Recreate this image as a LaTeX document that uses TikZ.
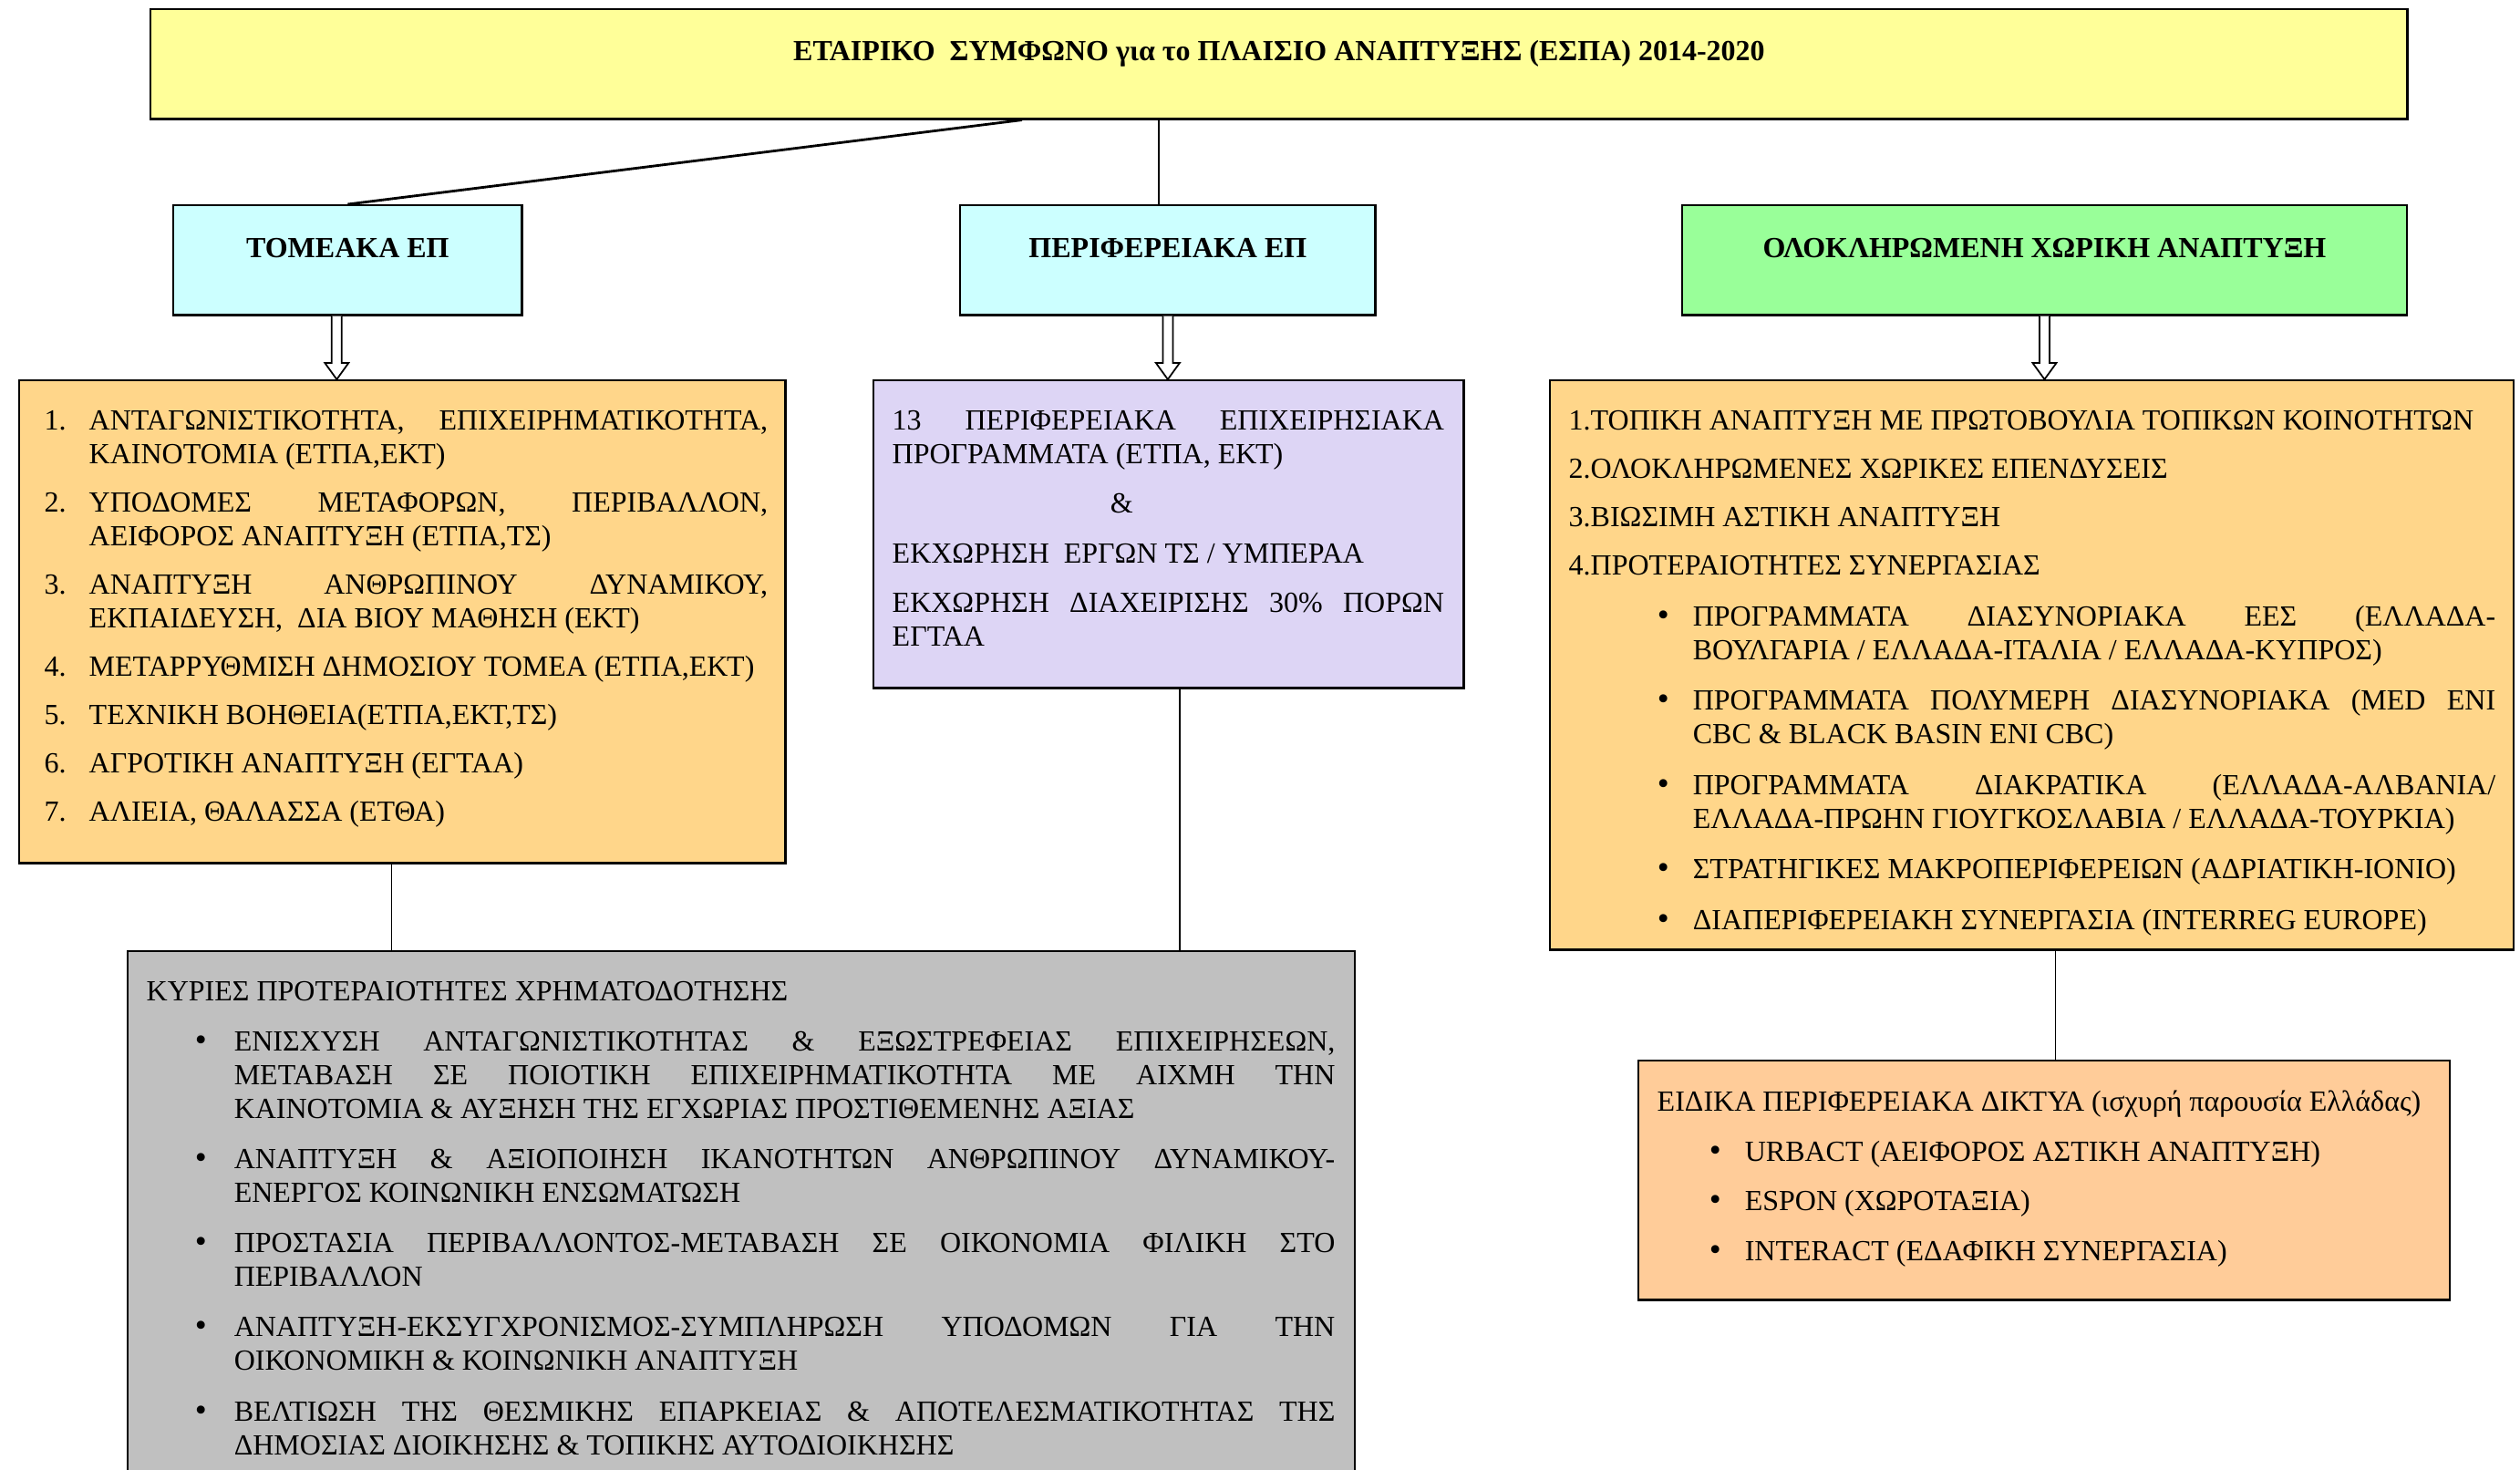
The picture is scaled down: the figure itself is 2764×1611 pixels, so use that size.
\documentclass[tikz,border=0pt]{standalone}
\usepackage{fontspec}
\setmainfont{Liberation Serif}
\usetikzlibrary{calc,positioning}
\definecolor{espayellow}{HTML}{FFFF99}
\definecolor{opcyan}{HTML}{CCFFFF}
\definecolor{itigreen}{HTML}{99FF99}
\definecolor{listorange}{HTML}{FFD68A}
\definecolor{regpurple}{HTML}{DDD5F5}
\definecolor{prioritygray}{HTML}{C0C0C0}
\definecolor{netpeach}{HTML}{FFCC99}
% one list line: marker #3 set #1 in, text hanging at #2
\newcommand\entry[3]{\hangindent=#2\hangafter=1\noindent\hbox to #2{\hspace*{#1}#3\hfil}\ignorespaces}
\newcommand\blt{{\fontsize{10.5}{10.5}\selectfont\textbullet}}
% open block arrow from the bottom of one box to the top of the next
\newcommand\hollowarrow[2]{%
  \draw[fill=white,line width=0.5pt] let \p1=(#1), \p2=(#2) in
    (\x1-0.055cm,\y1) -- (\x1-0.055cm,\y2+0.18cm) -- (\x1-0.13cm,\y2+0.18cm) -- (\x1,\y2)
    -- (\x1+0.13cm,\y2+0.18cm) -- (\x1+0.055cm,\y2+0.18cm) -- (\x1+0.055cm,\y1);}

\begin{document}
\begin{tikzpicture}[x=0.01cm,y=-0.01cm,
    box/.style={draw,line width=0.7pt,anchor=north west,inner sep=0pt},
    head/.style={anchor=base,inner sep=0pt,font=\fontsize{9.1}{10.5}\selectfont\bfseries},
    txt/.style={anchor=north west,inner sep=0pt,align=justify,font=\fontsize{9.1}{10.5}\selectfont,
      execute at begin node={\setlength{\parskip}{#1}}},
    txt/.default=5pt]
  \useasboundingbox (0,0) rectangle (2764,1611);
  \clip (0,0) rectangle (2764,1611);

  % boxes
  \node[box,fill=espayellow,minimum width=24.74cm,minimum height=1.2cm] (title) at (164,9) {};
  \node[box,fill=opcyan,minimum width=3.82cm,minimum height=1.2cm] (tom) at (189,224) {};
  \node[box,fill=opcyan,minimum width=4.55cm,minimum height=1.2cm] (perif) at (1052,224) {};
  \node[box,fill=itigreen,minimum width=7.94cm,minimum height=1.2cm] (olok) at (1844,224) {};
  \node[box,fill=listorange,minimum width=8.40cm,minimum height=5.29cm] (tomlist) at (20,416) {};
  \node[box,fill=regpurple,minimum width=6.47cm,minimum height=3.37cm] (periflist) at (957,416) {};
  \node[box,fill=listorange,minimum width=10.56cm,minimum height=6.24cm] (oloklist) at (1699,416) {};
  \node[box,fill=prioritygray,minimum width=13.45cm,minimum height=7cm] (prior) at (139,1042) {};
  \node[box,fill=netpeach,minimum width=8.89cm,minimum height=2.62cm] (nets) at (1796,1162) {};

  % headings
  \node[head] (titletext) at ($(title.north)+(0,57)$) {ΕΤΑΙΡΙΚΟ~ ΣΥΜΦΩΝΟ για το ΠΛΑΙΣΙΟ ΑΝΑΠΤΥΞΗΣ (ΕΣΠΑ) 2014-2020};
  \node[head] (tomtitle) at ($(tom.north)+(0,58)$) {ΤΟΜΕΑΚΑ ΕΠ};
  \node[head] (periftitle) at ($(perif.north)+(0,58)$) {ΠΕΡΙΦΕΡΕΙΑΚΑ ΕΠ};
  \node[head] (oloktitle) at ($(olok.north)+(0,58)$) {ΟΛΟΚΛΗΡΩΜΕΝΗ ΧΩΡΙΚΗ ΑΝΑΠΤΥΞΗ};

  % connectors
  \draw[line width=0.8pt] ($(title.south west)+(957,0)$) -- (tom.north);
  \draw[line width=0.5pt] ($(title.south)+(-132,0)$) coordinate (t2) -- (t2 |- perif.north);
  \hollowarrow{$(tom.south)+(-12,0)$}{tomlist.north}
  \hollowarrow{perif.south}{periflist.north}
  \hollowarrow{olok.south}{oloklist.north}
  \draw[line width=0.5pt] ($(tomlist.south)+(-12,0)$) coordinate (d1) -- (d1 |- prior.north);
  \draw[line width=0.5pt] ($(periflist.south)+(12,0)$) coordinate (d2) -- (d2 |- prior.north);
  \draw[line width=0.5pt] ($(oloklist.south)+(26,0)$) coordinate (d3) -- (d3 |- nets.north);

  % box texts
  \node[txt=4.6pt,text width=7.93cm,below right=0.335cm and 0.28cm of tomlist.north west] (tomtext) {%
    \entry{0pt}{0.49cm}{1.}ΑΝΤΑΓΩΝΙΣΤΙΚΟΤΗΤΑ,~ ΕΠΙΧΕΙΡΗΜΑΤΙΚΟΤΗΤΑ,\linebreak ΚΑΙΝΟΤΟΜΙΑ (ΕΤΠΑ,ΕΚΤ)
    \par\entry{0pt}{0.49cm}{2.}ΥΠΟΔΟΜΕΣ ΜΕΤΑΦΟΡΩΝ, ΠΕΡΙΒΑΛΛΟΝ,\linebreak ΑΕΙΦΟΡΟΣ ΑΝΑΠΤΥΞΗ (ΕΤΠΑ,ΤΣ)
    \par\entry{0pt}{0.49cm}{3.}ΑΝΑΠΤΥΞΗ ΑΝΘΡΩΠΙΝΟΥ ΔΥΝΑΜΙΚΟΥ,\linebreak ΕΚΠΑΙΔΕΥΣΗ,~ ΔΙΑ ΒΙΟΥ ΜΑΘΗΣΗ (ΕΚΤ)
    \par\entry{0pt}{0.49cm}{4.}ΜΕΤΑΡΡΥΘΜΙΣΗ ΔΗΜΟΣΙΟΥ ΤΟΜΕΑ (ΕΤΠΑ,ΕΚΤ)
    \par\entry{0pt}{0.49cm}{5.}ΤΕΧΝΙΚΗ ΒΟΗΘΕΙΑ(ΕΤΠΑ,ΕΚΤ,ΤΣ)
    \par\entry{0pt}{0.49cm}{6.}ΑΓΡΟΤΙΚΗ ΑΝΑΠΤΥΞΗ (ΕΓΤΑΑ)
    \par\entry{0pt}{0.49cm}{7.}ΑΛΙΕΙΑ, ΘΑΛΑΣΣΑ (ΕΤΘΑ)\par};
  \node[txt,text width=6.05cm,below right=0.335cm and 0.21cm of periflist.north west] (periftext) {%
    13 ΠΕΡΙΦΕΡΕΙΑΚΑ ΕΠΙΧΕΙΡΗΣΙΑΚΑ\linebreak ΠΡΟΓΡΑΜΜΑΤΑ (ΕΤΠΑ, ΕΚΤ)
    \par\noindent\hspace*{2.39cm}\&
    \par ΕΚΧΩΡΗΣΗ~ ΕΡΓΩΝ ΤΣ / ΥΜΠΕΡΑΑ
    \par ΕΚΧΩΡΗΣΗ ΔΙΑΧΕΙΡΙΣΗΣ 30\% ΠΟΡΩΝ\linebreak ΕΓΤΑΑ\par};
  \node[txt=4.6pt,text width=10.16cm,below right=0.335cm and 0.21cm of oloklist.north west] (oloktext) {%
    1.ΤΟΠΙΚΗ ΑΝΑΠΤΥΞΗ ΜΕ ΠΡΩΤΟΒΟΥΛΙΑ ΤΟΠΙΚΩΝ ΚΟΙΝΟΤΗΤΩΝ
    \par 2.ΟΛΟΚΛΗΡΩΜΕΝΕΣ ΧΩΡΙΚΕΣ ΕΠΕΝΔΥΣΕΙΣ
    \par 3.ΒΙΩΣΙΜΗ ΑΣΤΙΚΗ ΑΝΑΠΤΥΞΗ
    \par 4.ΠΡΟΤΕΡΑΙΟΤΗΤΕΣ ΣΥΝΕΡΓΑΣΙΑΣ
    \par\setlength{\parskip}{5.3pt}%
    \entry{0.97cm}{1.36cm}{\blt}ΠΡΟΓΡΑΜΜΑΤΑ ΔΙΑΣΥΝΟΡΙΑΚΑ ΕΕΣ (ΕΛΛΑΔΑ-\linebreak ΒΟΥΛΓΑΡΙΑ / ΕΛΛΑΔΑ-ΙΤΑΛΙΑ / ΕΛΛΑΔΑ-ΚΥΠΡΟΣ)
    \par\entry{0.97cm}{1.36cm}{\blt}ΠΡΟΓΡΑΜΜΑΤΑ ΠΟΛΥΜΕΡΗ ΔΙΑΣΥΝΟΡΙΑΚΑ (MED ENI\linebreak CBC \& BLACK BASIN ENI CBC)
    \par\entry{0.97cm}{1.36cm}{\blt}ΠΡΟΓΡΑΜΜΑΤΑ ΔΙΑΚΡΑΤΙΚΑ (ΕΛΛΑΔΑ-ΑΛΒΑΝΙΑ/\linebreak ΕΛΛΑΔΑ-ΠΡΩΗΝ ΓΙΟΥΓΚΟΣΛΑΒΙΑ / ΕΛΛΑΔΑ-ΤΟΥΡΚΙΑ)
    \par\entry{0.97cm}{1.36cm}{\blt}ΣΤΡΑΤΗΓΙΚΕΣ ΜΑΚΡΟΠΕΡΙΦΕΡΕΙΩΝ (ΑΔΡΙΑΤΙΚΗ-ΙΟΝΙΟ)
    \par\entry{0.97cm}{1.36cm}{\blt}ΔΙΑΠΕΡΙΦΕΡΕΙΑΚΗ ΣΥΝΕΡΓΑΣΙΑ (INTERREG EUROPE)\par};
  \node[txt=5.2pt,text width=13.03cm,below right=0.335cm and 0.21cm of prior.north west] (priortext) {%
    ΚΥΡΙΕΣ ΠΡΟΤΕΡΑΙΟΤΗΤΕΣ ΧΡΗΜΑΤΟΔΟΤΗΣΗΣ
    \par\entry{0.53cm}{0.96cm}{\blt}ΕΝΙΣΧΥΣΗ ΑΝΤΑΓΩΝΙΣΤΙΚΟΤΗΤΑΣ \& ΕΞΩΣΤΡΕΦΕΙΑΣ ΕΠΙΧΕΙΡΗΣΕΩΝ,\linebreak ΜΕΤΑΒΑΣΗ ΣΕ ΠΟΙΟΤΙΚΗ ΕΠΙΧΕΙΡΗΜΑΤΙΚΟΤΗΤΑ ΜΕ ΑΙΧΜΗ ΤΗΝ\linebreak ΚΑΙΝΟΤΟΜΙΑ \& ΑΥΞΗΣΗ ΤΗΣ ΕΓΧΩΡΙΑΣ ΠΡΟΣΤΙΘΕΜΕΝΗΣ ΑΞΙΑΣ
    \par\entry{0.53cm}{0.96cm}{\blt}ΑΝΑΠΤΥΞΗ \& ΑΞΙΟΠΟΙΗΣΗ ΙΚΑΝΟΤΗΤΩΝ ΑΝΘΡΩΠΙΝΟΥ ΔΥΝΑΜΙΚΟΥ-\linebreak ΕΝΕΡΓΟΣ ΚΟΙΝΩΝΙΚΗ ΕΝΣΩΜΑΤΩΣΗ
    \par\entry{0.53cm}{0.96cm}{\blt}ΠΡΟΣΤΑΣΙΑ ΠΕΡΙΒΑΛΛΟΝΤΟΣ-ΜΕΤΑΒΑΣΗ ΣΕ ΟΙΚΟΝΟΜΙΑ ΦΙΛΙΚΗ ΣΤΟ\linebreak ΠΕΡΙΒΑΛΛΟΝ
    \par\entry{0.53cm}{0.96cm}{\blt}ΑΝΑΠΤΥΞΗ-ΕΚΣΥΓΧΡΟΝΙΣΜΟΣ-ΣΥΜΠΛΗΡΩΣΗ ΥΠΟΔΟΜΩΝ ΓΙΑ ΤΗΝ\linebreak ΟΙΚΟΝΟΜΙΚΗ \& ΚΟΙΝΩΝΙΚΗ ΑΝΑΠΤΥΞΗ
    \par\entry{0.53cm}{0.96cm}{\blt}ΒΕΛΤΙΩΣΗ ΤΗΣ ΘΕΣΜΙΚΗΣ ΕΠΑΡΚΕΙΑΣ \& ΑΠΟΤΕΛΕΣΜΑΤΙΚΟΤΗΤΑΣ ΤΗΣ\linebreak ΔΗΜΟΣΙΑΣ ΔΙΟΙΚΗΣΗΣ \& ΤΟΠΙΚΗΣ ΑΥΤΟΔΙΟΙΚΗΣΗΣ\par};
  \node[txt,text width=8.6cm,below right=0.335cm and 0.21cm of nets.north west] (netstext) {%
    ΕΙΔΙΚΑ ΠΕΡΙΦΕΡΕΙΑΚΑ ΔΙΚΤΥΑ (ισχυρή παρουσία Ελλάδας)
    \par\entry{0.57cm}{0.96cm}{\blt}URBACT (ΑΕΙΦΟΡΟΣ ΑΣΤΙΚΗ ΑΝΑΠΤΥΞΗ)
    \par\entry{0.57cm}{0.96cm}{\blt}ESPON (ΧΩΡΟΤΑΞΙΑ)
    \par\entry{0.57cm}{0.96cm}{\blt}INTERACT (ΕΔΑΦΙΚΗ ΣΥΝΕΡΓΑΣΙΑ)\par};
\end{tikzpicture}
\end{document}
